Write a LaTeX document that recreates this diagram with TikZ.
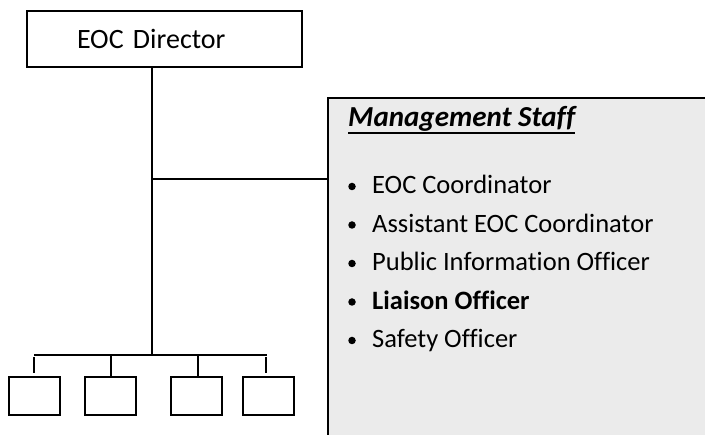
\documentclass[tikz,border=0pt]{standalone}
\usepackage{fontspec}
\setmainfont[Ligatures=NoCommon]{Carlito}
\definecolor{panel}{RGB}{235,235,235}
\begin{document}
\begin{tikzpicture}[x=1pt,y=-1pt,
  line/.style={line width=1.6pt, black},
  box/.style={draw, line width=1.6pt, inner sep=0pt},
  txt/.style={anchor=base west, inner sep=0pt, font=\fontsize{26.5}{30}\selectfont},
  dot/.style={circle, fill=black, inner sep=0pt, minimum size=7.5pt}]
\useasboundingbox (0,0) rectangle (705,435);
\clip (0,0) rectangle (705,435);
% management panel
\node[box, fill=panel, anchor=north west, minimum width=400pt, minimum height=360pt] (mgmt) at (327,97) {};
% director
\node[box, minimum width=275pt, minimum height=56pt, text width=175pt, align=left,
      font=\fontsize{28}{32}\selectfont] (dir) at (164.5,39) {EOC Director};
\coordinate (top) at (152,67);
\coordinate (branch) at (152,179);
\coordinate (busc) at (152,355);
\coordinate (busl) at (34,355);
\coordinate (busr) at (267,355);
\draw[line] (top) -- (busc);
\draw[line] (branch) -- (branch -| mgmt.west);
\draw[line] (busl) -- (busr);
% bottom boxes
\node[box, minimum width=51pt, minimum height=38pt] (b1) at (34.5,396) {};
\node[box, minimum width=51pt, minimum height=38pt] (b2) at (110.5,396) {};
\node[box, minimum width=51pt, minimum height=38pt] (b3) at (196.5,396) {};
\node[box, minimum width=51pt, minimum height=38pt] (b4) at (268.5,396) {};
\coordinate (d1) at (34,355);
\coordinate (d2) at (111,355);
\coordinate (d3) at (198,355);
\coordinate (d4) at (266,355);
\draw[line, shorten <=2pt, shorten >=3pt] (d1) -- (d1 |- b1.north);
\draw[line] (d2) -- (d2 |- b2.north);
\draw[line] (d3) -- (d3 |- b3.north);
\draw[line, shorten <=2pt, shorten >=3pt] (d4) -- (d4 |- b4.north);
% title
\node[txt, font=\fontsize{29}{33}\selectfont\bfseries\itshape] (title) at (348,127) {Management Staff};
\draw[line width=1.8pt] ([yshift=-6pt]title.base west) -- ([yshift=-6pt]title.base east);
% list
\node[txt] (i1) at (372,194) {EOC Coordinator};
\node[txt] (i2) at (372,232.5) {Assistant EOC Coordinator};
\node[txt] (i3) at (372,271) {Public Information Officer};
\node[txt, font=\fontsize{26.5}{30}\selectfont\bfseries] (i4) at (372,309.5) {Liaison Officer};
\node[txt] (i5) at (372,348) {Safety Officer};
\node[dot] (p1) at (352,186.5) {};
\node[dot] (p2) at (352,225) {};
\node[dot] (p3) at (352,263.5) {};
\node[dot] (p4) at (352,302) {};
\node[dot] (p5) at (352,340.5) {};
\end{tikzpicture}
\end{document}
